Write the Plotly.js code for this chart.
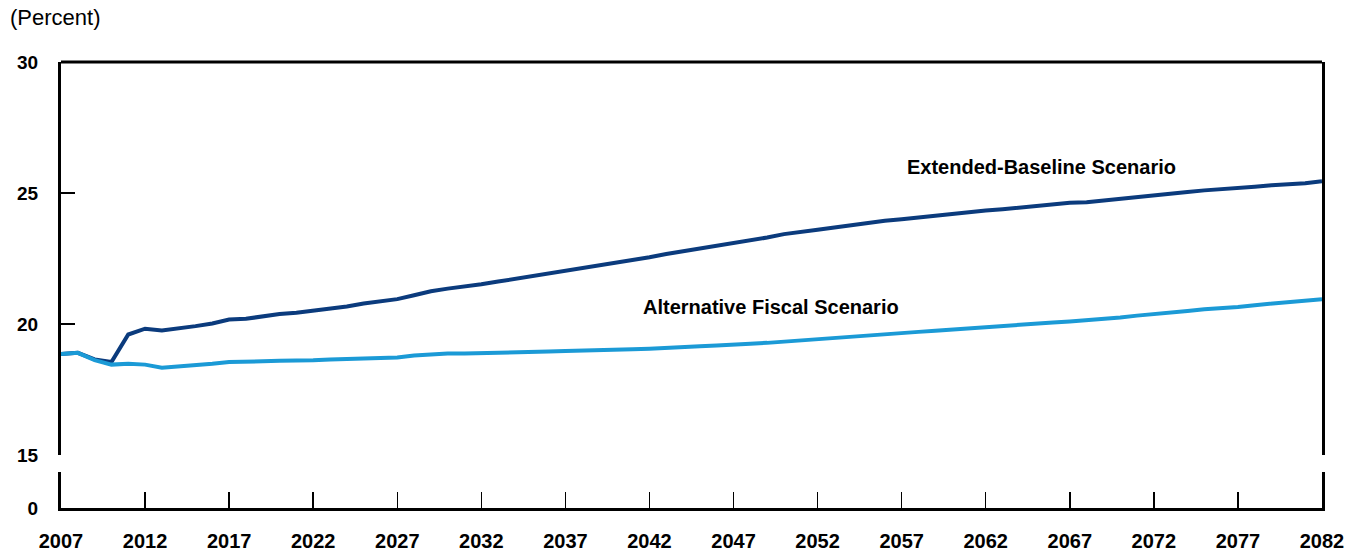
<!DOCTYPE html>
<html>
<head>
<meta charset="utf-8">
<script src="https://cdn.plot.ly/plotly-3.0.1.min.js"></script>
<style>html,body{margin:0;padding:0;background:#fff;}#chart{width:1357px;height:556px;}</style>
</head>
<body>
<div id="chart"></div>
<script>
const years = [];
for (let y = 2007; y <= 2082; y++) years.push(y);

const extendedBaseline = [
  18.86, 18.90, 18.65, 18.55, 19.60, 19.82, 19.75, 19.82, 19.92, 20.02,
  20.17, 20.20, 20.30, 20.38, 20.43, 20.50, 20.60, 20.67, 20.78, 20.85,
  20.95, 21.10, 21.25, 21.35, 21.42, 21.52, 21.62, 21.72, 21.82, 21.95,
  22.05, 22.15, 22.25, 22.35, 22.45, 22.55, 22.67, 22.77, 22.88, 22.98,
  23.07, 23.20, 23.30, 23.43, 23.50, 23.60, 23.68, 23.77, 23.86, 23.94,
  24.00, 24.07, 24.15, 24.22, 24.28, 24.33, 24.38, 24.45, 24.50, 24.58,
  24.63, 24.65, 24.72, 24.78, 24.86, 24.92, 24.98, 25.04, 25.10, 25.14,
  25.18, 25.24, 25.30, 25.32, 25.37, 25.45
];

const alternativeFiscal = [
  18.86, 18.90, 18.62, 18.45, 18.48, 18.45, 18.33, 18.37, 18.42, 18.48,
  18.55, 18.55, 18.58, 18.60, 18.60, 18.62, 18.65, 18.66, 18.68, 18.70,
  18.72, 18.80, 18.85, 18.87, 18.87, 18.88, 18.90, 18.92, 18.93, 18.95,
  18.97, 18.98, 19.00, 19.02, 19.04, 19.06, 19.10, 19.12, 19.15, 19.18,
  19.20, 19.25, 19.28, 19.33, 19.37, 19.42, 19.46, 19.52, 19.56, 19.60,
  19.65, 19.70, 19.74, 19.79, 19.83, 19.87, 19.92, 19.97, 20.02, 20.06,
  20.10, 20.14, 20.20, 20.25, 20.32, 20.37, 20.43, 20.50, 20.56, 20.60,
  20.65, 20.72, 20.78, 20.82, 20.87, 20.95
];

const xTickVals = [2007, 2012, 2017, 2022, 2027, 2032, 2037, 2042, 2047, 2052, 2057, 2062, 2067, 2072, 2077, 2082];
const yTickVals = [15, 20, 25, 30];
const yInnerTicks = [20, 25];
const lowerTickVals = [0];

const FONT = 'Liberation Sans, Arial, sans-serif';

const traces = [
  {x: years, y: extendedBaseline, type: 'scatter', mode: 'lines', name: 'Extended-Baseline Scenario',
   line: {color: '#0b3b7d', width: 4}, xaxis: 'x', yaxis: 'y', hoverinfo: 'skip'},
  {x: years, y: alternativeFiscal, type: 'scatter', mode: 'lines', name: 'Alternative Fiscal Scenario',
   line: {color: '#1b9ad6', width: 4}, xaxis: 'x', yaxis: 'y', hoverinfo: 'skip'},
  {x: [], y: [], type: 'scatter', mode: 'lines', xaxis: 'x', yaxis: 'y2', hoverinfo: 'skip', showlegend: false}
];

const layout = {
  width: 1357, height: 556,
  margin: {l: 61, r: 35, t: 62, b: 48, pad: 0},
  paper_bgcolor: '#fff', plot_bgcolor: 'rgba(0,0,0,0)',
  showlegend: false,
  font: {family: FONT, color: '#000'},
  xaxis: {
    anchor: 'y2', range: [2007, 2082], tickmode: 'array', tickvals: xTickVals,
    ticks: 'inside', ticklen: 16, tickwidth: 1.5, tickcolor: '#000',
    showline: true, linewidth: 3, linecolor: '#000', showgrid: false, zeroline: false,
    tickfont: {family: FONT, size: 20, color: '#000', weight: 'bold'},
    ticklabelstandoff: 13
  },
  yaxis: {
    domain: [0.1188, 1], anchor: 'x', range: [15, 30], tickmode: 'array', tickvals: yTickVals,
    ticks: '', showline: true, mirror: true, linewidth: 3, linecolor: '#000',
    showgrid: false, zeroline: false,
    tickfont: {family: FONT, size: 19, color: '#000', weight: 'bold'},
    ticklabelstandoff: 16,
    minor: {tickmode: 'array', tickvals: yInnerTicks, ticks: 'inside', ticklen: 14, tickwidth: 1.5, tickcolor: '#000', showgrid: false}
  },
  yaxis2: {
    domain: [0, 0.0796], anchor: 'x', range: [0, 1], tickmode: 'array', tickvals: lowerTickVals,
    ticks: '', showline: true, mirror: true, linewidth: 3, linecolor: '#000',
    showgrid: false, zeroline: false,
    tickfont: {family: FONT, size: 19, color: '#000', weight: 'bold'},
    ticklabelstandoff: 16
  },
  shapes: [
    {type: 'line', xref: 'paper', yref: 'paper', x0: 0, x1: 1, y0: 1, y1: 1, line: {color: '#000', width: 3}}
  ],
  annotations: [
    {text: '(Percent)', xref: 'paper', yref: 'paper', x: -0.042, y: 1.099, xanchor: 'left', yanchor: 'middle',
     showarrow: false, font: {family: FONT, size: 22, color: '#000'}},
    {text: 'Extended-Baseline Scenario', xref: 'x', yref: 'y', x: 2065.3, y: 25.98, xanchor: 'center', yanchor: 'middle',
     showarrow: false, font: {family: FONT, size: 20, color: '#000', weight: 'bold'}},
    {text: 'Alternative Fiscal Scenario', xref: 'x', yref: 'y', x: 2049.2, y: 20.66, xanchor: 'center', yanchor: 'middle',
     showarrow: false, font: {family: FONT, size: 20, color: '#000', weight: 'bold'}}
  ]
};

Plotly.newPlot('chart', traces, layout, {displayModeBar: false, staticPlot: true});
</script>
</body>
</html>
